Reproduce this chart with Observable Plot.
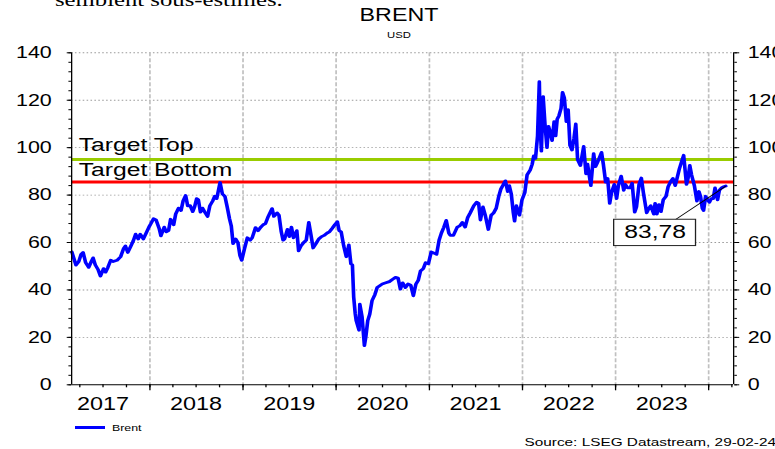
<!DOCTYPE html>
<html><head><meta charset="utf-8">
<script src="https://cdn.jsdelivr.net/npm/d3@7"></script>
<script src="https://cdn.jsdelivr.net/npm/@observablehq/plot@0.6"></script>
<style>
html,body{margin:0;padding:0;background:#fff;overflow:hidden;}
#wrap{position:relative;width:775px;height:449px;overflow:hidden;background:#fff;font-family:"Liberation Sans",Arial,sans-serif;}
#wrap svg{position:absolute;left:0;top:0;}
.ov{position:absolute;white-space:nowrap;color:#000;line-height:1;}
.l{transform-origin:left top;transform:scaleX(1.3);}
.c{transform-origin:center top;transform:translateX(-50%) scaleX(1.25);}
.r{transform-origin:right top;transform:translateX(-100%) scaleX(1.3);}
</style></head><body><div id="wrap"></div>
<script>
// ---- data ----
const dates = [
"2017-03-01","2017-03-08","2017-03-17","2017-03-28","2017-04-06","2017-04-14","2017-04-24","2017-05-06","2017-05-16","2017-05-23","2017-06-01","2017-06-12","2017-06-21","2017-07-03","2017-07-11","2017-07-20","2017-07-31","2017-08-10","2017-08-25","2017-09-08","2017-09-20","2017-09-27","2017-10-06","2017-10-16","2017-10-27","2017-11-06","2017-11-16","2017-11-24","2017-12-06","2017-12-15","2017-12-28",
"2018-01-05","2018-01-15","2018-01-25","2018-02-06","2018-02-13","2018-02-26","2018-03-06","2018-03-15","2018-03-23","2018-04-04","2018-04-12","2018-04-23","2018-05-03","2018-05-11","2018-05-21","2018-05-29","2018-06-08","2018-06-18","2018-06-25","2018-07-03","2018-07-10","2018-07-18","2018-07-26","2018-08-03","2018-08-15","2018-08-24","2018-09-04","2018-09-12","2018-09-20","2018-10-03","2018-10-12","2018-10-22","2018-10-31","2018-11-09","2018-11-16","2018-11-23","2018-12-03","2018-12-12","2018-12-20","2018-12-27",
"2019-01-07","2019-01-18","2019-01-29","2019-02-06","2019-02-19","2019-03-01","2019-03-12","2019-03-21","2019-03-30","2019-04-10","2019-04-25","2019-05-02","2019-05-15","2019-05-22","2019-05-31","2019-06-07","2019-06-13","2019-06-24","2019-07-02","2019-07-10","2019-07-18","2019-07-31","2019-08-07","2019-08-16","2019-08-27","2019-09-06","2019-09-16","2019-09-24","2019-10-03","2019-10-14","2019-10-25","2019-11-05","2019-11-15","2019-11-27","2019-12-06","2019-12-17","2019-12-27",
"2020-01-06","2020-01-13","2020-01-21","2020-01-31","2020-02-10","2020-02-20","2020-02-28","2020-03-05","2020-03-10","2020-03-16","2020-03-20","2020-03-31","2020-04-03","2020-04-12","2020-04-21","2020-04-27","2020-05-04","2020-05-12","2020-05-21","2020-06-01","2020-06-10","2020-06-23","2020-06-30","2020-07-14","2020-07-28","2020-08-10","2020-08-21","2020-08-31","2020-09-09","2020-09-18","2020-09-29","2020-10-09","2020-10-20","2020-10-30","2020-11-09","2020-11-18","2020-11-27","2020-12-08","2020-12-17","2020-12-28",
"2021-01-08","2021-01-20","2021-01-29","2021-02-08","2021-02-17","2021-02-26","2021-03-08","2021-03-18","2021-03-24","2021-04-05","2021-04-20","2021-04-30","2021-05-10","2021-05-21","2021-05-31","2021-06-10","2021-06-24","2021-07-05","2021-07-13","2021-07-20","2021-07-30","2021-08-08","2021-08-20","2021-08-31","2021-09-10","2021-09-20","2021-09-30","2021-10-08","2021-10-18","2021-10-26","2021-11-04","2021-11-10","2021-11-18","2021-11-26","2021-12-01","2021-12-08","2021-12-20","2021-12-30",
"2022-01-10","2022-01-19","2022-01-31","2022-02-08","2022-02-14","2022-02-21","2022-03-01","2022-03-08","2022-03-11","2022-03-16","2022-03-23","2022-03-30","2022-04-07","2022-04-13","2022-04-20","2022-04-27","2022-05-05","2022-05-11","2022-05-17","2022-05-24","2022-06-01","2022-06-07","2022-06-14","2022-06-22","2022-06-29","2022-07-06","2022-07-14","2022-07-22","2022-07-29","2022-08-05","2022-08-16","2022-08-29","2022-09-07","2022-09-13","2022-09-26","2022-10-07","2022-10-14","2022-10-21","2022-11-07","2022-11-14","2022-11-23","2022-12-01","2022-12-09","2022-12-16","2022-12-27",
"2023-01-05","2023-01-12","2023-01-23","2023-02-02","2023-02-08","2023-02-17","2023-02-27","2023-03-07","2023-03-17","2023-03-24","2023-04-03","2023-04-12","2023-04-20","2023-05-03","2023-05-12","2023-05-19","2023-05-31","2023-06-05","2023-06-12","2023-06-20","2023-06-28","2023-07-07","2023-07-18","2023-07-26","2023-08-04","2023-08-14","2023-08-23","2023-08-31","2023-09-08","2023-09-18","2023-09-25","2023-10-06","2023-10-12","2023-10-19","2023-10-26","2023-11-06","2023-11-16","2023-11-24","2023-11-30","2023-12-07","2023-12-12","2023-12-20","2023-12-28",
"2024-01-04","2024-01-11","2024-01-19","2024-01-26","2024-02-05","2024-02-12","2024-02-20","2024-02-29","2024-03-08"];
const brent = [
56.0,53.5,50.5,52.0,55.0,55.8,51.5,49.5,52.0,53.5,50.5,48.5,45.8,49.0,47.5,49.5,52.5,52.0,52.5,54.0,57.5,58.5,55.8,58.0,60.5,63.5,61.5,63.5,61.5,63.5,66.5,
68.0,70.0,69.5,66.0,62.8,66.5,64.5,65.0,69.8,67.5,72.0,74.5,73.5,77.5,79.8,75.5,75.5,73.0,75.0,78.5,78.0,72.8,74.5,73.0,71.0,75.5,77.5,79.5,78.5,85.3,80.5,79.5,75.0,70.0,67.0,59.5,61.5,60.0,54.5,52.5,
57.5,62.0,61.0,62.0,66.3,65.0,66.5,67.5,68.0,71.0,74.3,71.0,72.5,71.5,64.5,61.0,61.5,65.5,62.5,66.5,62.0,65.0,56.5,58.5,60.0,61.0,68.5,63.5,57.7,59.5,61.5,62.5,63.0,64.0,64.5,66.0,67.5,
68.8,65.0,64.5,58.5,54.0,59.0,51.0,50.5,37.0,30.0,27.0,23.0,34.0,28.5,16.5,20.5,27.0,29.8,35.5,38.0,41.0,42.0,42.5,43.0,43.5,44.5,45.3,45.0,40.4,43.0,41.0,42.5,42.0,37.5,42.5,44.0,48.0,49.0,51.5,51.0,
56.0,55.5,55.0,61.0,64.0,66.3,69.3,64.0,63.0,63.0,66.5,67.0,68.5,66.5,70.5,72.5,75.5,77.0,76.5,69.5,75.0,71.5,65.5,71.5,72.5,74.5,79.5,82.5,84.5,86.0,81.5,84.0,80.5,72.5,69.0,75.5,71.5,78.0,
81.0,88.5,90.5,93.0,96.5,95.5,105.0,127.8,110.0,98.5,121.5,110.0,100.0,109.0,106.5,103.0,111.0,105.0,112.0,113.5,116.5,123.3,121.0,111.0,116.0,101.0,99.0,104.0,110.0,95.0,92.5,100.5,89.0,93.0,84.0,97.5,92.0,93.5,98.0,93.0,85.5,87.0,76.5,81.0,84.5,
78.5,84.0,88.0,82.0,84.5,83.0,83.0,85.0,72.8,75.0,84.5,87.2,81.0,72.5,74.5,75.5,72.0,76.5,72.0,76.0,73.0,78.0,79.5,83.5,85.5,87.0,84.0,87.5,91.0,94.5,96.8,84.5,87.0,92.5,88.5,84.0,77.5,81.5,79.5,74.5,73.5,79.5,78.0,
77.0,78.5,78.5,83.0,78.0,82.0,83.0,83.5,83.8];

const yTicks = [0, 20, 40, 60, 80, 100, 120, 140];
const yMinorTicks = [0,4,8,12,16,20,24,28,32,36,40,44,48,52,56,60,64,68,72,76,80,84,88,92,96,100,104,108,112,116,120,124,128,132,136,140];
const yearStarts = ["2018-01-01","2019-01-01","2020-01-01","2021-01-01","2022-01-01","2023-01-01","2024-01-01"];
const yearLabelDates = ["2017-07-01","2018-07-01","2019-07-01","2020-07-01","2021-07-01","2022-07-01","2023-07-01"];
const xDomainDates = ["2017-02-28", "2024-04-08"];
const targetTop = 95;
const targetBottom = 85.5;
const targetLabels = ["Target Top", "Target Bottom"];
const lastLabel = "83,78";
// annotation box (data coordinates)
const boxDates = ["2022-12-27", "2023-11-13"];
const boxValues = [58.5, 69.6];
const boxTextDate = "2023-06-05";
const boxTextValue = 64.4;
const leaderStart = {date: "2023-08-23", value: 69.6};

// ---- build ----
const S = 1.3;              // horizontal stretch of the reference
const W = 775 / S;
const H = 449;
const parse = d3.utcParse("%Y-%m-%d");
const data = dates.map((d, i) => ({date: parse(d), value: brent[i]}));
const xDomain = xDomainDates.map(parse);
const last = data[data.length - 1];
const quarterTicks = d3.utcMonth.every(3).range(parse("2017-04-01"), parse("2024-04-02"));

const svg = Plot.plot({
  width: W, height: H,
  marginTop: 52.3, marginBottom: H - 384.3, marginLeft: 71 / S, marginRight: (775 - 733) / S,
  x: {type: "utc", domain: xDomain, label: null},
  y: {domain: [0, 140], label: null},
  style: {fontFamily: '"Liberation Sans", Arial, sans-serif', background: "transparent", color: "#000", overflow: "visible"},
  marks: [
    Plot.ruleY(yTicks.filter(d => d > 0), {stroke: "#9a9a9a", strokeWidth: 0.9, strokeDasharray: "1.2,1.8"}),
    Plot.ruleX(yearStarts.map(parse), {stroke: "#c0c0c0", strokeWidth: 1.3, strokeDasharray: "4,2"}),
    Plot.ruleY([targetTop], {stroke: "#99cc00", strokeWidth: 3}),
    Plot.ruleY([targetBottom], {stroke: "#ff0000", strokeWidth: 3}),
    Plot.text([{y: targetTop, t: targetLabels[0]}], {frameAnchor: "left", y: "y", text: "t", textAnchor: "start", lineAnchor: "middle", dx: 7 / S, dy: -15, fontSize: 19, fill: "#000"}),
    Plot.text([{y: targetBottom, t: targetLabels[1]}], {frameAnchor: "left", y: "y", text: "t", textAnchor: "start", lineAnchor: "middle", dx: 7 / S, dy: -12.3, fontSize: 19, fill: "#000"}),
    Plot.line(data, {x: "date", y: "value", stroke: "#0000ff", strokeWidth: 2.8, strokeLinejoin: "round"}),
    Plot.link([{x1: parse(leaderStart.date), y1: leaderStart.value, x2: last.date, y2: last.value}], {x1: "x1", y1: "y1", x2: "x2", y2: "y2", stroke: "#000", strokeWidth: 0.8}),
    Plot.rect([{x1: parse(boxDates[0]), x2: parse(boxDates[1]), y1: boxValues[0], y2: boxValues[1]}], {x1: "x1", x2: "x2", y1: "y1", y2: "y2", fill: "#fff", stroke: "#222", strokeWidth: 1}),
    Plot.text([{x: parse(boxTextDate), y: boxTextValue, t: lastLabel}], {x: "x", y: "y", text: "t", lineAnchor: "middle", fontSize: 19, fill: "#000"}),
    Plot.ruleY([0], {stroke: "#000", strokeWidth: 1}),
    Plot.ruleX(xDomain, {stroke: "#000", strokeWidth: 1}),
    Plot.axisY({ticks: yTicks, anchor: "left", tickSize: 3.3, tickPadding: 12, fontSize: 16.5, label: null}),
    Plot.axisY({ticks: yMinorTicks, anchor: "left", tickSize: 2, tickFormat: () => "", label: null}),
    Plot.axisY({ticks: yTicks, anchor: "right", tickSize: 3.8, tickPadding: 7, fontSize: 16.5, label: null}),
    Plot.axisY({ticks: yMinorTicks, anchor: "right", tickSize: 2, tickFormat: () => "", label: null}),
    Plot.axisX({ticks: yearStarts.map(parse), tickSize: 6, tickFormat: () => "", label: null}),
    Plot.axisX({ticks: quarterTicks, tickSize: 3, tickFormat: () => "", label: null}),
    Plot.axisX({ticks: yearLabelDates.map(parse), tickSize: 0, tickPadding: 12, tickFormat: d3.utcFormat("%Y"), fontSize: 18, label: null})
  ]
});
svg.setAttribute("viewBox", `0 0 ${W} ${H}`);
svg.setAttribute("width", 775);
svg.setAttribute("height", H);
svg.setAttribute("preserveAspectRatio", "none");
svg.style.width = "775px";
svg.style.height = H + "px";
svg.style.maxWidth = "none";

const wrap = document.getElementById("wrap");
wrap.appendChild(svg);

function ov(cls, text, left, top, css) {
  const d = document.createElement("div");
  d.className = "ov " + cls;
  d.textContent = text;
  d.style.left = left + "px";
  d.style.top = top + "px";
  Object.assign(d.style, css || {});
  wrap.appendChild(d);
  return d;
}
ov("l", "semblent sous-estimés.", 55, -10, {fontFamily: '"Liberation Serif", "Times New Roman", serif', fontSize: "19px"});
ov("c", "BRENT", 399, 6, {fontSize: "18.6px"});
ov("c", "USD", 399, 31, {fontSize: "9px"});
const leg = document.createElement("div");
leg.style.cssText = "position:absolute;left:75px;top:426px;width:30px;height:2.5px;background:#0000ff;";
wrap.appendChild(leg);
ov("l", "Brent", 112, 422.5, {fontSize: "9.5px"});
ov("r", "Source: LSEG Datastream, 29-02-24", 776, 436.5, {fontSize: "11.8px"});
</script></body></html>
